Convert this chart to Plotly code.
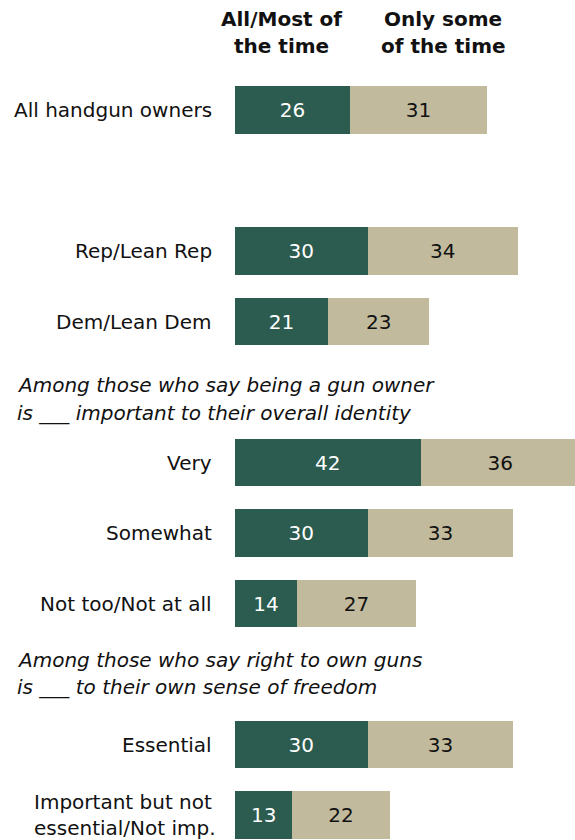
import plotly.graph_objects as go

categories = ["All handgun owners", "Rep/Lean Rep", "Dem/Lean Dem", "Very", "Somewhat",
              "Not too/Not at all", "Essential", "Important but not<br>essential/Not imp."]
slots = [0, 2, 3, 5, 6, 7, 9, 10]
most_time = [26, 30, 21, 42, 30, 14, 30, 13]
some_time = [31, 34, 23, 36, 33, 27, 33, 22]
series_names = [["All/Most of", "the time"], ["Only some", "of the time"]]
section_headers = [["Among those who say being a gun owner", "is ___ important to their overall identity"],
                   ["Among those who say right to own guns", "is ___ to their own sense of freedom"]]

GREEN = "#2c5b4f"
TAN = "#c2ba9d"
FONT = "DejaVu Sans"
FS = 20

W, H = 575, 840
PX_UNIT = 4.42
X0_PX = 235
SLOT_PX = 70.5
SLOT0_PX = 110


def px_x(p):
    return (p - X0_PX) / PX_UNIT


def px_y(p):
    return 1 - p / H


x_range = [-X0_PX / PX_UNIT, (W - X0_PX) / PX_UNIT]
y_top = -SLOT0_PX / SLOT_PX
y_bot = y_top + H / SLOT_PX

fig = go.Figure()
fig.add_trace(go.Bar(
    y=slots, x=most_time, orientation="h", marker=dict(color=GREEN, line=dict(width=0)),
    width=0.667, text=[str(v) for v in most_time], textposition="inside",
    insidetextanchor="middle", textfont=dict(color="white", size=FS, family=FONT),
    name="most", showlegend=False, hoverinfo="skip",
))
fig.add_trace(go.Bar(
    y=slots, x=some_time, orientation="h", marker=dict(color=TAN, line=dict(width=0)),
    width=0.667, text=[str(v) for v in some_time], textposition="inside",
    insidetextanchor="middle", textfont=dict(color="#111111", size=FS, family=FONT),
    name="some", showlegend=False, hoverinfo="skip",
))

annotations = []
for cat, s in zip(categories, slots):
    if "<br>" in cat:
        lines = cat.split("<br>")
        for ln, py in zip(lines, [802, 828]):
            annotations.append(dict(x=px_x(32), y=px_y(py), xref="x", yref="paper", text=ln,
                                    showarrow=False, xanchor="left", yanchor="middle",
                                    font=dict(size=FS, family=FONT, color="#111111")))
    else:
        annotations.append(dict(x=px_x(214), y=s, xref="x", yref="y", text=cat, showarrow=False,
                                xanchor="right", yanchor="middle", align="right",
                                font=dict(size=FS, family=FONT, color="#111111")))
for lines, pys in zip(section_headers, [[385, 413], [660, 687]]):
    for ln, py in zip(lines, pys):
        annotations.append(dict(x=px_x(15), y=px_y(py), xref="x", yref="paper", text="<i>" + ln + "</i>",
                                showarrow=False, xanchor="left", yanchor="middle", align="left",
                                font=dict(size=FS, family=FONT, color="#111111")))
for lines, px in zip(series_names, [281, 443]):
    for ln, py in zip(lines, [19, 46]):
        annotations.append(dict(x=px_x(px), y=px_y(py), xref="x", yref="paper",
                                text="<b>" + ln + "</b>", showarrow=False, xanchor="center",
                                yanchor="middle", align="center",
                                font=dict(size=FS, family=FONT, color="#111111")))

fig.update_layout(
    width=W, height=H, barmode="stack", bargap=0,
    margin=dict(l=0, r=0, t=0, b=0),
    paper_bgcolor="white", plot_bgcolor="white",
    xaxis=dict(range=x_range, visible=False, fixedrange=True),
    yaxis=dict(range=[y_bot, y_top], visible=False, fixedrange=True),
    annotations=annotations,
    uniformtext=dict(minsize=FS, mode="show"),
    font=dict(family=FONT),
)
fig.write_html("out.html", config={"displayModeBar": False, "staticPlot": True},
               post_script="document.body.style.margin='0';document.body.style.overflow='hidden';")
